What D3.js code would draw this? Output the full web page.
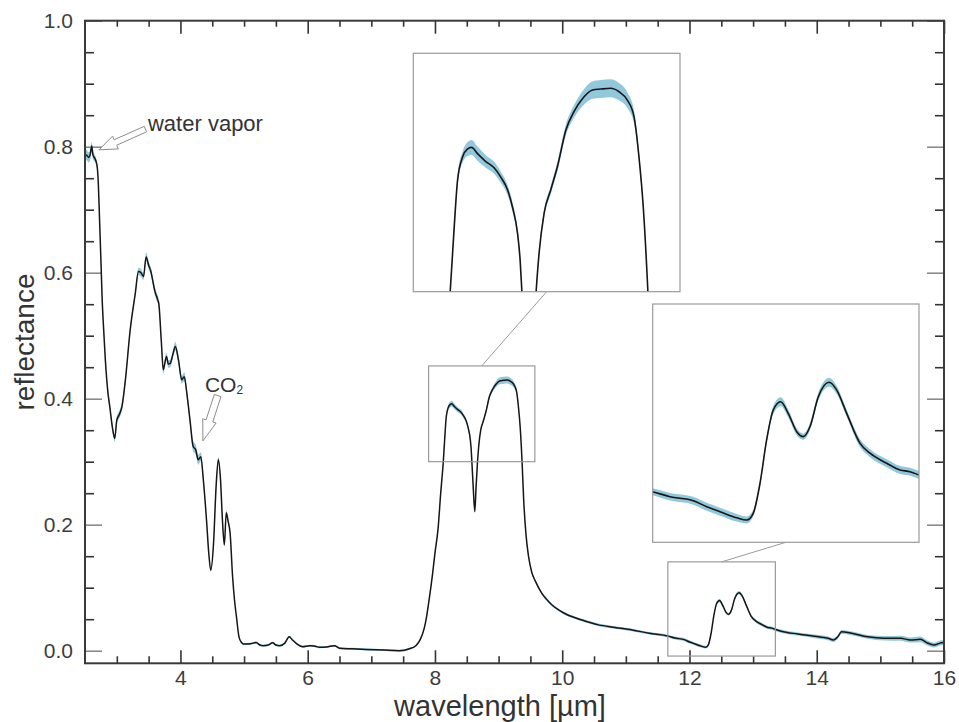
<!DOCTYPE html>
<html>
<head>
<meta charset="utf-8">
<script src="https://cdn.jsdelivr.net/npm/d3@7"></script>
<style>
  body { margin: 0; background: #fff; }
  svg { display: block; }
  text { font-family: "Liberation Sans", Arial, Helvetica, sans-serif; }
</style>
</head>
<body>
<svg id="chart" width="959" height="722"></svg>
<script>
// Mean reflectance spectrum with its spread (half width of the shaded band)
const wavelength = [
  2.50, 2.52, 2.56, 2.585, 2.605, 2.625, 2.645, 2.67, 2.695, 2.71, 2.73, 2.75, 2.77, 2.785, 2.82, 2.86, 2.89, 2.93, 2.967,
  3.00, 3.04, 3.08, 3.135, 3.21, 3.29, 3.34, 3.38, 3.42, 3.46, 3.50, 3.53, 3.60, 3.64, 3.66, 3.70, 3.73, 3.78, 3.81, 3.84,
  3.88, 3.92, 3.97, 4.02, 4.06, 4.10, 4.15, 4.20, 4.24, 4.28, 4.32, 4.36, 4.41, 4.445, 4.476, 4.52, 4.56, 4.595, 4.63,
  4.66, 4.69, 4.72, 4.75, 4.78, 4.82, 4.85, 4.88, 4.92, 4.96, 4.99, 5.10, 5.19, 5.25, 5.30, 5.38, 5.45, 5.50, 5.56, 5.64,
  5.71, 5.76, 5.82, 5.92, 6.03, 6.10, 6.19, 6.30, 6.42, 6.50, 6.70, 6.92, 7.20, 7.44, 7.60, 7.70, 7.77, 7.83, 7.87, 7.90,
  7.96, 8.00, 8.05, 8.09, 8.131, 8.156, 8.177, 8.209, 8.24, 8.265, 8.302, 8.354, 8.406, 8.448, 8.49, 8.521, 8.553, 8.569,
  8.58, 8.60, 8.626, 8.647, 8.669, 8.688, 8.719, 8.761, 8.803, 8.855, 8.907, 8.959, 9.022, 9.073, 9.136, 9.188, 9.24,
  9.282, 9.313, 9.34, 9.369, 9.394, 9.43, 9.47, 9.52, 9.58, 9.68, 9.76, 9.84, 9.94, 10.04, 10.3, 10.57, 10.83, 11.1,
  11.37, 11.66, 11.77, 11.918, 12.003, 12.087, 12.193, 12.257, 12.298, 12.341, 12.383, 12.425, 12.472, 12.52, 12.574,
  12.616, 12.658, 12.711, 12.779, 12.828, 12.891, 12.976, 13.039, 13.145, 13.23, 13.293, 13.35, 13.44, 13.7, 14.03,
  14.18, 14.26, 14.33, 14.39, 14.55, 14.8, 15.06, 15.32, 15.47, 15.63, 15.73, 15.84, 15.96, 16.0
];
const reflectance = [
  0.785, 0.787, 0.783, 0.789, 0.801, 0.787, 0.783, 0.778, 0.765, 0.740, 0.680, 0.620, 0.557, 0.525, 0.461, 0.410, 0.387, 0.355, 0.337,
  0.366, 0.375, 0.387, 0.430, 0.509, 0.567, 0.602, 0.600, 0.594, 0.625, 0.612, 0.604, 0.570, 0.558, 0.551, 0.490, 0.446, 0.467, 0.455, 0.456,
  0.470, 0.483, 0.461, 0.430, 0.435, 0.409, 0.366, 0.324, 0.319, 0.303, 0.308, 0.271, 0.207, 0.155, 0.128, 0.170, 0.260, 0.303, 0.271,
  0.207, 0.168, 0.219, 0.205, 0.187, 0.117, 0.080, 0.054, 0.022, 0.013, 0.0106, 0.011, 0.013, 0.009, 0.008, 0.009, 0.0127, 0.009, 0.008, 0.012,
  0.022, 0.017, 0.0117, 0.0064, 0.008, 0.0075, 0.0054, 0.006, 0.008, 0.004, 0.003, 0.002, 0.001, 0.000, 0.003, 0.008, 0.018, 0.035, 0.055, 0.075,
  0.120, 0.155, 0.195, 0.250, 0.300, 0.341, 0.371, 0.386, 0.391, 0.392, 0.388, 0.383, 0.379, 0.373, 0.365, 0.354, 0.337, 0.320,
  0.300, 0.262, 0.221, 0.262, 0.300, 0.325, 0.350, 0.365, 0.380, 0.403, 0.415, 0.423, 0.4286, 0.4292, 0.4297, 0.4275, 0.4222,
  0.4116, 0.386, 0.354, 0.300, 0.240, 0.185, 0.150, 0.125, 0.110, 0.091, 0.081, 0.0725, 0.065, 0.059, 0.049, 0.041, 0.037, 0.033,
  0.0276, 0.0232, 0.0201, 0.0176, 0.0138, 0.0107, 0.0069, 0.0055, 0.0097, 0.0285, 0.0557, 0.0745, 0.0797, 0.0724, 0.0609,
  0.0578, 0.064, 0.0828, 0.0919, 0.087, 0.0724, 0.0536, 0.0474, 0.0411, 0.0369, 0.0358, 0.0337, 0.031, 0.0265, 0.022,
  0.0197, 0.017, 0.022, 0.030, 0.0276, 0.022, 0.0197, 0.0197, 0.017, 0.018, 0.0127, 0.009, 0.0127, 0.013
];
const spread = [
  0.008, 0.008, 0.008, 0.008, 0.007, 0.007, 0.006, 0.005, 0.004, 0.003, 0.003, 0.003, 0.003, 0.003, 0.003, 0.004, 0.004, 0.005, 0.005,
  0.006, 0.006, 0.006, 0.006, 0.005, 0.005, 0.006, 0.006, 0.006, 0.007, 0.006, 0.006, 0.006, 0.006, 0.005, 0.005, 0.006, 0.006, 0.006, 0.006,
  0.006, 0.007, 0.006, 0.006, 0.007, 0.006, 0.006, 0.008, 0.008, 0.008, 0.007, 0.004, 0.003, 0.003, 0.003, 0.003, 0.004, 0.005, 0.004,
  0.003, 0.003, 0.004, 0.003, 0.003, 0.002, 0.002, 0.002, 0.0015, 0.0015, 0.0015, 0.0015, 0.0015, 0.0015, 0.0015, 0.0015, 0.0015, 0.0015, 0.0015, 0.0015,
  0.0015, 0.0015, 0.0015, 0.0015, 0.0015, 0.0015, 0.0015, 0.0015, 0.0015, 0.0015, 0.0015, 0.0015, 0.0015, 0.0015, 0.0015, 0.0015, 0.0015, 0.002, 0.002, 0.002,
  0.002, 0.002, 0.002, 0.002, 0.002, 0.0025, 0.003, 0.0035, 0.0045, 0.0048, 0.0045, 0.004, 0.0038, 0.0035, 0.0032, 0.003, 0.0025, 0.002,
  0.002, 0.002, 0.002, 0.002, 0.002, 0.002, 0.0022, 0.0025, 0.003, 0.0035, 0.004, 0.0048, 0.0055, 0.0057, 0.0057, 0.0055, 0.005,
  0.004, 0.003, 0.0025, 0.002, 0.002, 0.002, 0.002, 0.002, 0.002, 0.002, 0.002, 0.002, 0.002, 0.002, 0.002, 0.002, 0.002, 0.002,
  0.002, 0.0022, 0.0024, 0.0025, 0.0025, 0.0025, 0.0024, 0.0022, 0.002, 0.0018, 0.002, 0.0025, 0.0028, 0.0025, 0.0022,
  0.002, 0.002, 0.0025, 0.0028, 0.0025, 0.0022, 0.0025, 0.0025, 0.0025, 0.0025, 0.0025, 0.0025, 0.0025, 0.0025, 0.003,
  0.003, 0.003, 0.003, 0.003, 0.003, 0.003, 0.0035, 0.004, 0.004, 0.0045, 0.004, 0.004, 0.004, 0.004
];

// Axis ticks and labels
const xMajorTicks = [4, 6, 8, 10, 12, 14, 16];
const yMajorTicks = [0.0, 0.2, 0.4, 0.6, 0.8, 1.0];
const xTitle = "wavelength [\u00b5m]";
const yTitle = "reflectance";

// Zoomed windows: wavelength range and reflectance range of each magnified view
const insetWavelength = [[7.9, 9.57], [11.66, 13.35]];
const insetReflectance = [[0.300, 0.452], [-0.0085, 0.141]];

const spectrum = wavelength.map((w, i) => ({ w, r: reflectance[i], s: spread[i] }));

const svg = d3.select("#chart");
const plot = { left: 85, right: 944, top: 20.7, bottom: 663.3 };

const x = d3.scaleLinear().domain([2.5, 16]).range([plot.left, plot.right]);
const y = d3.scaleLinear().domain([-0.02, 1.0]).range([plot.bottom, plot.top]);

const bandColor = "#92c8dc";
const lineColor = "#161616";
const boxColor = "#9a9a9a";

svg.append("rect").attr("width", 959).attr("height", 722).attr("fill", "#fff");

const defs = svg.append("defs");
defs.append("clipPath").attr("id", "plot-clip")
  .append("rect")
  .attr("x", plot.left).attr("y", plot.top)
  .attr("width", plot.right - plot.left).attr("height", plot.bottom - plot.top);

function drawSpectrum(g, sx, sy, lineWidth) {
  const band = d3.area()
    .x(d => sx(d.w)).y0(d => sy(d.r - d.s)).y1(d => sy(d.r + d.s))
    .curve(d3.curveMonotoneX);
  const line = d3.line()
    .x(d => sx(d.w)).y(d => sy(d.r))
    .curve(d3.curveMonotoneX);
  g.append("path").datum(spectrum).attr("d", band).attr("fill", bandColor);
  g.append("path").datum(spectrum).attr("d", line)
    .attr("fill", "none").attr("stroke", lineColor)
    .attr("stroke-width", lineWidth).attr("stroke-linejoin", "round");
}

// ---- axes (ticks point inward on all four sides) ----
const xMinorTicks = d3.range(3, 16, 0.5).filter(v => v % 2 !== 0);
const yMinorTicks = d3.range(0, 20).filter(i => i % 4 !== 0).map(i => i * 0.05);

function styleAxis(g, tickColor, tickWidth) {
  g.select(".domain").remove();
  g.selectAll(".tick line").attr("stroke", tickColor).attr("stroke-width", tickWidth);
  g.selectAll(".tick text")
    .attr("font-size", 21)
    .attr("fill", "#3d3d3d")
    .style("font-family", '"Liberation Sans", Arial, sans-serif');
}

// bottom
svg.append("g").attr("transform", `translate(0,${plot.bottom})`)
  .call(d3.axisBottom(x).tickValues(xMinorTicks).tickSize(-7).tickFormat(""))
  .call(g => styleAxis(g, "#333", 1.6));
svg.append("g").attr("transform", `translate(0,${plot.bottom})`)
  .call(d3.axisBottom(x).tickValues(xMajorTicks).tickSize(-13).tickPadding(7).tickFormat(d3.format("d")))
  .call(g => styleAxis(g, "#333", 1.6));
// top
svg.append("g").attr("transform", `translate(0,${plot.top})`)
  .call(d3.axisTop(x).tickValues(xMinorTicks).tickSize(-6).tickFormat(""))
  .call(g => styleAxis(g, "#333", 1.6));
svg.append("g").attr("transform", `translate(0,${plot.top})`)
  .call(d3.axisTop(x).tickValues(xMajorTicks).tickSize(-13).tickFormat(""))
  .call(g => styleAxis(g, "#333", 1.6));
// left
svg.append("g").attr("transform", `translate(${plot.left},0)`)
  .call(d3.axisLeft(y).tickValues(yMinorTicks).tickSize(-9).tickFormat(""))
  .call(g => styleAxis(g, "#333", 1.6));
svg.append("g").attr("transform", `translate(${plot.left},0)`)
  .call(d3.axisLeft(y).tickValues(yMajorTicks).tickSize(-17).tickPadding(12).tickFormat(d3.format(".1f")))
  .call(g => styleAxis(g, "#8a8a8a", 1.6));
// right
svg.append("g").attr("transform", `translate(${plot.right},0)`)
  .call(d3.axisRight(y).tickValues(yMinorTicks).tickSize(-9).tickFormat(""))
  .call(g => styleAxis(g, "#333", 1.6));
svg.append("g").attr("transform", `translate(${plot.right},0)`)
  .call(d3.axisRight(y).tickValues(yMajorTicks).tickSize(-17).tickFormat(""))
  .call(g => styleAxis(g, "#8a8a8a", 1.6));

// ---- main spectrum ----
drawSpectrum(svg.append("g").attr("clip-path", "url(#plot-clip)"), x, y, 1.5);

// ---- magnified views ----
const insetFrames = [
  { x: 413.3, y: 53.3, w: 266.7, h: 238.4 },
  { x: 652.7, y: 304.0, w: 266.3, h: 238.3 }
];

insetWavelength.forEach((wr, k) => {
  const rr = insetReflectance[k];
  const f = insetFrames[k];

  // marker box on the main chart
  const bx0 = x(wr[0]), bx1 = x(wr[1]), by0 = y(rr[1]), by1 = y(rr[0]);
  svg.append("rect")
    .attr("x", bx0).attr("y", by0).attr("width", bx1 - bx0).attr("height", by1 - by0)
    .attr("fill", "none").attr("stroke", boxColor).attr("stroke-width", 1.2);

  // leader line from the marker box to the enlarged view
  svg.append("line")
    .attr("x1", (bx0 + bx1) / 2).attr("y1", by0)
    .attr("x2", f.x + f.w / 2).attr("y2", f.y + f.h)
    .attr("stroke", boxColor).attr("stroke-width", 1);

  const ix = d3.scaleLinear().domain(wr).range([f.x, f.x + f.w]);
  const iy = d3.scaleLinear().domain(rr).range([f.y + f.h, f.y]);

  defs.append("clipPath").attr("id", `inset-clip-${k}`)
    .append("rect").attr("x", f.x).attr("y", f.y).attr("width", f.w).attr("height", f.h);

  svg.append("rect").attr("x", f.x).attr("y", f.y).attr("width", f.w).attr("height", f.h)
    .attr("fill", "#fff");
  drawSpectrum(svg.append("g").attr("clip-path", `url(#inset-clip-${k})`), ix, iy, 1.6);
  svg.append("rect").attr("x", f.x).attr("y", f.y).attr("width", f.w).attr("height", f.h)
    .attr("fill", "none").attr("stroke", boxColor).attr("stroke-width", 1.2);
});

// ---- frame ----
svg.append("rect")
  .attr("x", plot.left).attr("y", plot.top)
  .attr("width", plot.right - plot.left).attr("height", plot.bottom - plot.top)
  .attr("fill", "none").attr("stroke", "#3a3a3a").attr("stroke-width", 2);

// ---- axis titles ----
svg.append("text")
  .attr("x", 500).attr("y", 716)
  .attr("text-anchor", "middle").attr("font-size", 29).attr("fill", "#333")
  .text(xTitle);
svg.append("text")
  .attr("transform", `translate(33.5,${(plot.top + plot.bottom) / 2}) rotate(-90)`)
  .attr("text-anchor", "middle").attr("font-size", 28).attr("fill", "#333")
  .text(yTitle);

// ---- band annotations with hollow arrows ----
function blockArrow(tail, tip, shaftHalf, headHalf, headLen) {
  const dx = tip[0] - tail[0], dy = tip[1] - tail[1];
  const len = Math.hypot(dx, dy);
  const ux = dx / len, uy = dy / len, nx = -uy, ny = ux;
  const neck = [tip[0] - ux * headLen, tip[1] - uy * headLen];
  const pts = [
    [tail[0] + nx * shaftHalf, tail[1] + ny * shaftHalf],
    [neck[0] + nx * shaftHalf, neck[1] + ny * shaftHalf],
    [neck[0] + nx * headHalf, neck[1] + ny * headHalf],
    tip,
    [neck[0] - nx * headHalf, neck[1] - ny * headHalf],
    [neck[0] - nx * shaftHalf, neck[1] - ny * shaftHalf],
    [tail[0] - nx * shaftHalf, tail[1] - ny * shaftHalf]
  ];
  return "M" + pts.map(p => p.join(",")).join("L") + "Z";
}

// water vapor feature near 2.7 µm
const wvTip = [x(2.72), y(0.795)];
const wvTail = [x(3.45), y(0.828)];
svg.append("path").attr("d", blockArrow(wvTail, wvTip, 3, 7, 18))
  .attr("fill", "#fff").attr("stroke", "#8c8c8c").attr("stroke-width", 1);
svg.append("text")
  .attr("x", x(3.49)).attr("y", y(0.825))
  .attr("font-size", 22).attr("fill", "#333")
  .text("water vapor");

// CO2 feature near 4.3 µm
const coTip = [x(4.353), y(0.333)];
const coTail = [x(4.585), y(0.405)];
svg.append("path").attr("d", blockArrow(coTail, coTip, 3.5, 7, 21))
  .attr("fill", "#fff").attr("stroke", "#8c8c8c").attr("stroke-width", 1);
const co = svg.append("text")
  .attr("x", x(4.385)).attr("y", y(0.411))
  .attr("font-size", 21).attr("fill", "#333");
co.append("tspan").text("CO");
co.append("tspan").attr("font-size", 12).attr("dy", 2).text("2");
</script>
</body>
</html>
